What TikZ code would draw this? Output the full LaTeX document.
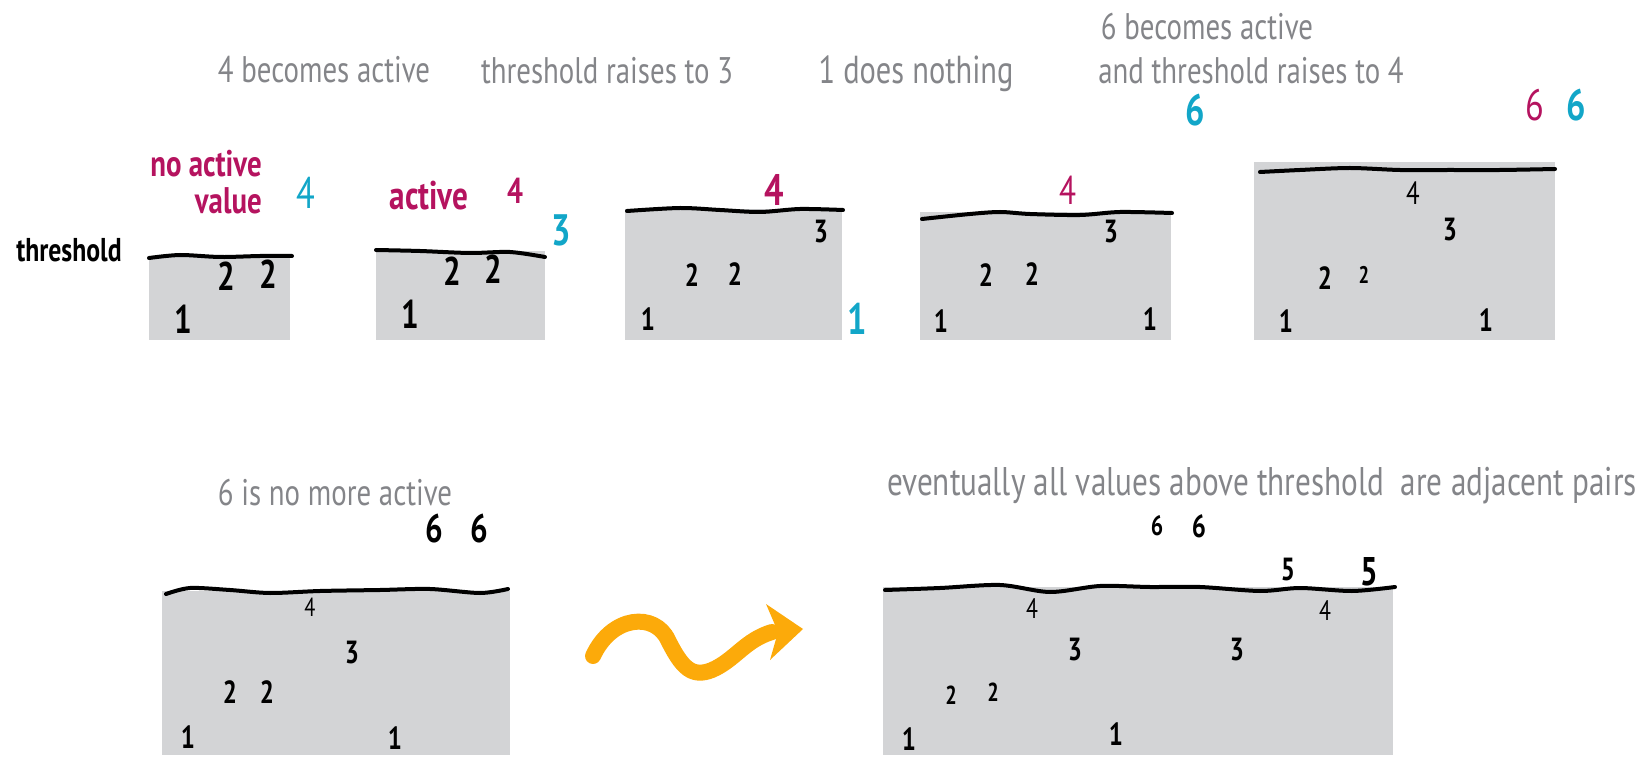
\documentclass[tikz,border=0pt]{standalone}
\usepackage{fontspec}
\newfontfamily\hand[FakeStretch=0.78]{PT Sans}
\definecolor{boxgray}{RGB}{211,212,214}
\definecolor{txtgray}{RGB}{132,133,137}
\definecolor{mag}{RGB}{181,19,95}
\definecolor{cy}{RGB}{18,166,200}
\definecolor{orng}{RGB}{252,170,10}
\tikzset{
  title/.style={text=txtgray,font=\hand\fontsize{37}{39}\selectfont,inner sep=0pt},
  lab/.style={font=\hand\bfseries\fontsize{37}{37}\selectfont,inner sep=0pt},
  dig/.style={font=\hand\bfseries\fontsize{32}{34}\selectfont,inner sep=0pt,text=black},
  bigdig/.style={font=\hand\bfseries\fontsize{40}{42}\selectfont,inner sep=0pt,text=black},
  smalldig/.style={font=\hand\bfseries\fontsize{26}{28}\selectfont,inner sep=0pt,text=black},
  colordig/.style={font=\hand\bfseries\fontsize{44}{46}\selectfont,inner sep=0pt},
  thr/.style={line width=4pt,black,line cap=round},
  pane/.style={fill=boxgray},
}
\begin{document}
\begin{tikzpicture}[x=1pt,y=-1pt]
\useasboundingbox (0,0) rectangle (1639,775);
% ---------- titles
\node[title] (t1) at (324,70) {4 becomes active};
\node[title] (t2) at (607,71) {threshold raises to 3};
\node[title,font=\hand\fontsize{39}{41}\selectfont] (t3) at (916,74) {1 does nothing};
\node[title] (t4) at (1207,27) {6 becomes active};
\node[title] (t5) at (1251,71) {and threshold raises to 4};
\node[title] (t6) at (335,493) {6 is no more active};
\node[title,font=\hand\fontsize{40}{42}\selectfont] (t7) at (1262,486) {eventually all values above threshold\ \ are adjacent pairs};
% ---------- panel 1
\fill[pane] (149,256) rectangle (290,340);
\draw[thr] plot[smooth] coordinates {(149,258) (180,255) (220,257) (260,256) (292,256)};
\node[inner sep=0pt,text=black,font=\hand\bfseries\fontsize{33}{35}\selectfont] (thrlab) at (69,250) {threshold};
\node[lab,text=mag,align=right] (na) at (206,182) {no active\\value};
\node[colordig,text=cy,font=\hand\fontsize{44}{46}\selectfont] (c4a) at (306,193) {4};
\node[bigdig] (p1a) at (226,276) {2};
\node[bigdig] (p1b) at (268,274) {2};
\node[bigdig] (p1c) at (183,319) {1};
% ---------- panel 2
\fill[pane] (376,251) rectangle (545,340);
\draw[thr] plot[smooth] coordinates {(376,250) (420,251) (470,253) (510,252) (545,257)};
\node[lab,text=mag,font=\hand\bfseries\fontsize{40}{42}\selectfont] (act) at (429,196) {active};
\node[colordig,text=mag,font=\hand\bfseries\fontsize{36}{38}\selectfont] (m4a) at (515,191) {4};
\node[colordig,text=cy] (c3) at (561,230) {3};
\node[bigdig] (p2a) at (452,271) {2};
\node[bigdig] (p2b) at (493,269) {2};
\node[bigdig] (p2c) at (410,314) {1};
% ---------- panel 3
\fill[pane] (625,209) rectangle (842,340);
\draw[thr] plot[smooth] coordinates {(627,211) (680,208) (720,210) (760,212) (800,209) (843,210)};
\node[colordig,text=mag] (m4b) at (774,190) {4};
\node[dig] (p3d) at (821,232) {3};
\node[dig] (p3a) at (692,275) {2};
\node[dig] (p3b) at (735,274) {2};
\node[dig] (p3c) at (648,319) {1};
\node[colordig,text=cy] (c1) at (857,319) {1};
% ---------- panel 4
\fill[pane] (920,212) rectangle (1171,340);
\draw[thr] plot[smooth] coordinates {(922,219) (970,214) (1000,212) (1030,214) (1080,215) (1120,212) (1172,213)};
\node[colordig,text=mag,font=\hand\fontsize{40}{42}\selectfont] (m4c) at (1068,190) {4};
\node[dig] (p4d) at (1111,232) {3};
\node[dig] (p4a) at (986,275) {2};
\node[dig] (p4b) at (1032,274) {2};
\node[dig] (p4c) at (941,321) {1};
\node[dig] (p4e) at (1150,319) {1};
\node[colordig,text=cy] (c6a) at (1195,110) {6};
% ---------- panel 5
\fill[pane] (1254,162) rectangle (1555,340);
\draw[thr] plot[smooth] coordinates {(1260,172) (1300,170) (1350,168) (1400,170) (1450,170) (1500,170) (1555,169)};
\node[dig,font=\hand\fontsize{32}{34}\selectfont] (p5e) at (1413,193) {4};
\node[dig] (p5d) at (1450,230) {3};
\node[dig] (p5a) at (1325,278) {2};
\node[smalldig,font=\hand\bfseries\fontsize{24}{26}\selectfont] (p5b) at (1364,275) {2};
\node[dig] (p5c) at (1286,321) {1};
\node[dig] (p5f) at (1486,320) {1};
\node[colordig,text=mag,font=\hand\fontsize{44}{46}\selectfont] (m6) at (1535,105) {6};
\node[colordig,text=cy] (c6b) at (1576,105) {6};
% ---------- panel 6
\fill[pane] (162,591) rectangle (510,755);
\draw[thr] plot[smooth] coordinates {(166,594) (190,588) (230,590) (270,593) (320,591) (380,590) (430,589) (480,593) (508,589)};
\node[bigdig] (q6a) at (434,528) {6};
\node[bigdig] (q6b) at (479,528) {6};
\node[smalldig,font=\hand\fontsize{26}{28}\selectfont] (q4) at (310,607) {4};
\node[dig] (q3) at (352,653) {3};
\node[dig] (q2a) at (230,692) {2};
\node[dig] (q2b) at (267,692) {2};
\node[dig] (q1a) at (188,737) {1};
\node[dig] (q1b) at (395,738) {1};
% ---------- arrow
\coordinate (ws) at (593,656);
\coordinate (we) at (772,632);
\draw[orng,line width=16pt,line cap=round] (ws) .. controls (612,615) and (655,612) .. (668,640)
   .. controls (682,668) and (692,678) .. (712,670) .. controls (735,660) and (745,640) .. (we);
\fill[orng] (766,604) -- (803,629) -- (770,660) -- (778,632) -- cycle;
% ---------- panel 7
\fill[pane] (883,587) rectangle (1393,755);
\draw[thr] plot[smooth] coordinates {(885,590) (940,588) (1000,585) (1050,592) (1100,586) (1150,587) (1200,587) (1260,591) (1300,588) (1352,591) (1395,587)};
\node[smalldig,font=\hand\bfseries\fontsize{28}{30}\selectfont] (r6a) at (1157,526) {6};
\node[dig] (r6b) at (1199,526) {6};
\node[dig] (r5a) at (1288,570) {5};
\node[bigdig] (r5b) at (1369,572) {5};
\node[smalldig,font=\hand\fontsize{28}{30}\selectfont] (r4a) at (1032,609) {4};
\node[smalldig,font=\hand\fontsize{28}{30}\selectfont] (r4b) at (1325,611) {4};
\node[dig] (r3a) at (1075,650) {3};
\node[dig] (r3b) at (1237,650) {3};
\node[smalldig] (r2a) at (951,695) {2};
\node[smalldig] (r2b) at (993,692) {2};
\node[dig] (r1a) at (909,739) {1};
\node[dig] (r1b) at (1116,734) {1};
\end{tikzpicture}
\end{document}
